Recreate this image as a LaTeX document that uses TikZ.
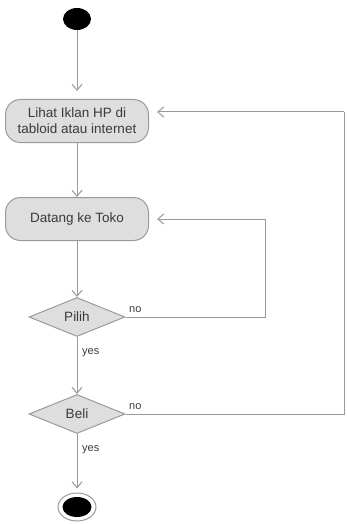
\documentclass[tikz,border=0pt]{standalone}
\usepackage{fontspec}
\setmainfont{Liberation Sans}
\usetikzlibrary{shapes.geometric,arrows.meta}
\definecolor{linegray}{HTML}{9A9A9A}
\definecolor{boxfill}{HTML}{DEDEDE}
\definecolor{txtgray}{HTML}{3A3A3A}
\tikzset{
  flow/.style={draw=linegray, line width=1pt, -{Straight Barb[length=6pt,width=10pt]}},
  plain/.style={draw=linegray, line width=1pt},
  actbox/.style={draw=linegray, line width=1pt, fill=boxfill, rounded corners=15pt,
    minimum width=143pt, minimum height=43pt, inner sep=0pt, align=center,
    text=txtgray, font=\fontsize{13.5}{16}\selectfont},
  decis/.style={diamond, draw=linegray, line width=1pt, fill=boxfill, inner sep=0pt,
    minimum width=96pt, minimum height=39pt, text=txtgray, font=\fontsize{13.5}{16}\selectfont},
  lbl/.style={text=txtgray, font=\fontsize{11}{13}\selectfont, inner sep=0pt},
  startdot/.style={ellipse, fill=black, minimum width=28pt, minimum height=22pt, inner sep=0pt},
}
\begin{document}
\begin{tikzpicture}[x=1pt,y=-1pt]
\useasboundingbox (0,0) rectangle (347,524);
\node[startdot] (start) at (77,19) {};
\node[actbox] (lihat) at (77,121) {Lihat Iklan HP di\\tabloid atau internet};
\node[actbox] (datang) at (77,219) {Datang ke Toko};
\node[decis] (pilih) at (77,317) {Pilih};
\node[decis] (beli) at (77,414) {Beli};
\node[ellipse, draw=linegray, line width=1pt, fill=white, minimum width=38pt, minimum height=28pt, inner sep=0pt] (endo) at (77,507) {};
\node[ellipse, fill=black, minimum width=29pt, minimum height=20pt, inner sep=0pt] (endi) at (77,507) {};
\coordinate (r1) at (265,317);
\coordinate (r1t) at (265,219);
\coordinate (r2) at (344,414);
\coordinate (r2t) at (344,112);
\draw[flow, shorten >=8pt] (start) -- (lihat);
\draw[flow, shorten >=0pt] (lihat) -- (datang);
\draw[flow] (datang) -- (pilih);
\draw[flow] (pilih) -- (beli);
\draw[flow, shorten >=4pt] (beli) -- (endo);
\draw[plain] (pilih.east) -- (r1) -- (r1t);
\draw[flow, shorten >=8pt] (r1t) -- (datang.east);
\draw[plain] (beli.east) -- (r2) -- (r2t);
\draw[flow, shorten >=8pt] (r2t) -- (lihat.east |- r2t);
\node[lbl, anchor=base west] (no1) at (129,312) {no};
\node[lbl, anchor=base west] (yes1) at (82,354) {yes};
\node[lbl, anchor=base west] (no2) at (129,409) {no};
\node[lbl, anchor=base west] (yes2) at (82,451) {yes};
\end{tikzpicture}
\end{document}
